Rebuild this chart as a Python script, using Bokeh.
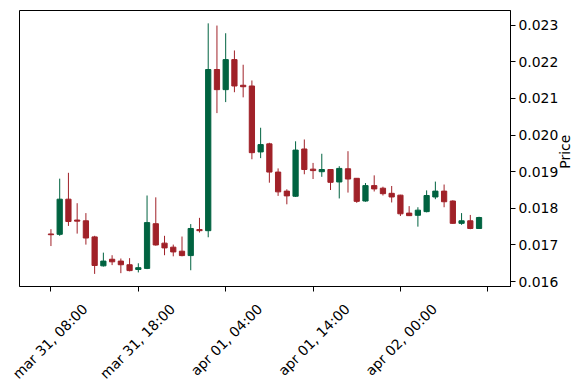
import math
from bokeh.plotting import figure
from bokeh.models import ColumnDataSource, FixedTicker, NumeralTickFormatter, Range1d, LinearAxis
from bokeh.embed import file_html
from bokeh.resources import INLINE

# hourly candles, hour 0 = mar 31, 08:00
hours = list(range(50))
opens = [0.01730, 0.01729, 0.01825, 0.01768, 0.01766, 0.01722, 0.01643, 0.01661, 0.01656, 0.01646,
         0.01633, 0.01636, 0.01758, 0.01705, 0.01694, 0.01683, 0.01671, 0.01742, 0.01739, 0.02179,
         0.02124, 0.02206, 0.02136, 0.02134, 0.01954, 0.01976, 0.01899, 0.01847, 0.01833, 0.01962,
         0.01907, 0.01900, 0.01906, 0.01872, 0.01908, 0.01882, 0.01820, 0.01862, 0.01855, 0.01841,
         0.01836, 0.01787, 0.01781, 0.01791, 0.01831, 0.01847, 0.01820, 0.01759, 0.01766, 0.01745]
highs = [0.01743, 0.01881, 0.01897, 0.01814, 0.01787, 0.01725, 0.01679, 0.01672, 0.01663, 0.01664,
         0.01650, 0.01835, 0.01830, 0.01725, 0.01701, 0.01723, 0.01757, 0.01774, 0.02305, 0.02299,
         0.02278, 0.02231, 0.02192, 0.02149, 0.02020, 0.01979, 0.01909, 0.01852, 0.01983, 0.01988,
         0.01924, 0.01949, 0.01906, 0.01915, 0.01956, 0.01882, 0.01869, 0.01890, 0.01859, 0.01861,
         0.01837, 0.01806, 0.01803, 0.01849, 0.01873, 0.01865, 0.01822, 0.01787, 0.01782, 0.01777]
lows = [0.01697, 0.01725, 0.01752, 0.01731, 0.01701, 0.01621, 0.01641, 0.01645, 0.01623, 0.01628,
        0.01625, 0.01634, 0.01698, 0.01672, 0.01669, 0.01669, 0.01631, 0.01734, 0.01721, 0.02060,
        0.02090, 0.02117, 0.02103, 0.01934, 0.01937, 0.01870, 0.01834, 0.01811, 0.01831, 0.01893,
        0.01880, 0.01886, 0.01850, 0.01827, 0.01843, 0.01815, 0.01818, 0.01846, 0.01835, 0.01816,
        0.01779, 0.01779, 0.01750, 0.01789, 0.01825, 0.01803, 0.01758, 0.01755, 0.01743, 0.01745]
closes = [0.01728, 0.01825, 0.01764, 0.01765, 0.01719, 0.01644, 0.01656, 0.01654, 0.01646, 0.01630,
          0.01638, 0.01761, 0.01700, 0.01692, 0.01681, 0.01671, 0.01745, 0.01739, 0.02179, 0.02124,
          0.02206, 0.02134, 0.02132, 0.01952, 0.01974, 0.01899, 0.01845, 0.01834, 0.01959, 0.01906,
          0.01903, 0.01906, 0.01871, 0.01909, 0.01880, 0.01819, 0.01862, 0.01853, 0.01840, 0.01831,
          0.01785, 0.01780, 0.01795, 0.01835, 0.01847, 0.01818, 0.01759, 0.01766, 0.01745, 0.01775]

tick_hours = [0, 10, 20, 30, 40, 50]
tick_labels = ["mar 31, 08:00", "mar 31, 18:00", "apr 01, 04:00", "apr 01, 14:00", "apr 02, 00:00", ""]
price_ticks = [0.016, 0.017, 0.018, 0.019, 0.020, 0.021, 0.022, 0.023]
y_title = "Price"

UP = "#006340"
DOWN = "#A02128"
FONT = "DejaVu Sans"
FS = "13.9px"
LABEL_SHIFT = 3.9      # rotated x labels centred on their tick (matplotlib style)
Y_LO, Y_HI = 0.015866, 0.023401
FRAME_H = 390 - 10 - 99
TITLE_PX_FROM_BOTTOM = 120   # where the rotated y title starts

colors = [UP if c >= o else DOWN for o, c in zip(opens, closes)]
src = ColumnDataSource(dict(
    x=hours, open=opens, high=highs, low=lows, close=closes,
    top=[max(o, c) for o, c in zip(opens, closes)],
    bottom=[min(o, c) for o, c in zip(opens, closes)],
    color=colors,
))

p = figure(width=588, height=390, output_backend="svg", toolbar_location=None,
           x_range=Range1d(-3.6, 52.6), y_range=Range1d(Y_LO, Y_HI),
           y_axis_location="right",
           min_border_left=19, min_border_right=78, min_border_top=10, min_border_bottom=99)
p.background_fill_color = "white"
p.border_fill_color = "white"
p.outline_line_color = "black"
p.outline_line_width = 1
p.xgrid.visible = False
p.ygrid.visible = False

p.segment(x0="x", y0="low", x1="x", y1="high", line_color="color", line_width=1, source=src)
p.vbar(x="x", width=0.6, top="top", bottom="bottom", fill_color="color",
       line_color="color", line_width=1, source=src)

# x tick marks only
xa = p.xaxis[0]
xa.ticker = FixedTicker(ticks=tick_hours)
xa.major_label_overrides = {t: "" for t in tick_hours}
xa.major_label_text_font_size = "0px"
xa.major_label_standoff = 0
xa.minor_tick_line_color = None
xa.major_tick_in = 0
xa.major_tick_out = 5
xa.major_tick_line_color = "black"
xa.axis_line_color = "black"

# x tick labels (rotated)
lab_ticks = [t + LABEL_SHIFT for t, l in zip(tick_hours, tick_labels) if l]
lab_axis = LinearAxis(ticker=FixedTicker(ticks=lab_ticks))
lab_axis.major_label_overrides = {t + LABEL_SHIFT: l for t, l in zip(tick_hours, tick_labels) if l}
lab_axis.major_label_orientation = math.pi / 4
lab_axis.major_label_standoff = 15
lab_axis.major_tick_line_color = None
lab_axis.minor_tick_line_color = None
lab_axis.major_tick_in = 0
lab_axis.major_tick_out = 0
lab_axis.axis_line_color = None
lab_axis.major_label_text_font = FONT
lab_axis.major_label_text_font_size = FS
lab_axis.major_label_text_color = "black"
p.add_layout(lab_axis, "below")

# price axis
ya = p.yaxis[0]
ya.ticker = FixedTicker(ticks=price_ticks)
ya.formatter = NumeralTickFormatter(format="0.000")
ya.minor_tick_line_color = None
ya.major_tick_in = 0
ya.major_tick_out = 5
ya.major_tick_line_color = "black"
ya.axis_line_color = "black"
ya.major_label_standoff = 3
ya.major_label_text_font = FONT
ya.major_label_text_font_size = FS
ya.major_label_text_color = "black"

# y title, reading bottom to top and centred like matplotlib
title_y = round(Y_LO + TITLE_PX_FROM_BOTTOM / FRAME_H * (Y_HI - Y_LO), 6)
ttl_axis = LinearAxis(ticker=FixedTicker(ticks=[title_y]))
ttl_axis.major_label_overrides = {title_y: y_title}
ttl_axis.major_label_orientation = math.pi / 2
ttl_axis.major_label_standoff = 4
ttl_axis.major_tick_line_color = None
ttl_axis.minor_tick_line_color = None
ttl_axis.major_tick_in = 0
ttl_axis.major_tick_out = 0
ttl_axis.axis_line_color = None
ttl_axis.major_label_text_font = FONT
ttl_axis.major_label_text_font_size = FS
ttl_axis.major_label_text_color = "black"
p.add_layout(ttl_axis, "right")

open("out.html", "w").write(file_html(p, INLINE))
